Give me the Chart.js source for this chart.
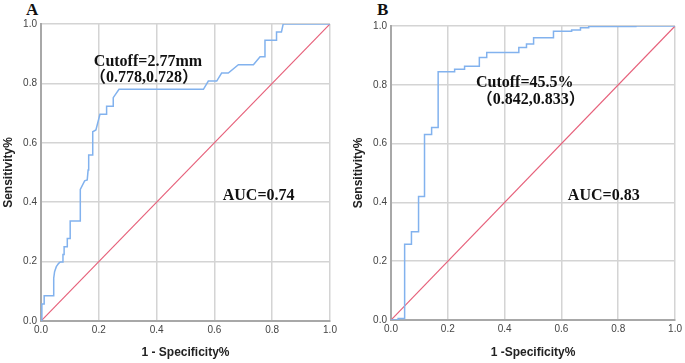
<!DOCTYPE html>
<html lang="en">
<head>
    <meta charset="UTF-8">
    <title>ROC curves</title>
    <script src="https://cdn.jsdelivr.net/npm/chart.js"></script>
    <style>
        * {
            margin: 0;
            padding: 0;
            box-sizing: border-box;
        }
        body {
            width: 685px;
            height: 363px;
            background: white;
            position: relative;
            overflow: hidden;
        }
        .panel {
            position: absolute;
            top: 0;
            height: 363px;
        }
        .letter {
            position: absolute;
            top: 0;
            font: bold 17px "Liberation Serif", "Times New Roman", serif;
            color: #111;
        }
    </style>
</head>
<body>
    <div class="letter" style="left:26px;">A</div>
    <div class="letter" style="left:377px;">B</div>
    <div class="panel" style="left:0; width:340px;"><canvas id="rocA"></canvas></div>
    <div class="panel" style="left:350px; width:335px;"><canvas id="rocB"></canvas></div>

    <script>
        // ROC points (1 - specificity, sensitivity)
        const fprA = [0, 0.003, 0.011, 0.011, 0.044, 0.044, 0.047, 0.053, 0.061, 0.067, 0.076, 0.076, 0.08, 0.08, 0.091, 0.091,
            0.101, 0.101, 0.136, 0.136, 0.151, 0.16, 0.163, 0.165, 0.179, 0.179, 0.19, 0.19, 0.204, 0.227, 0.227, 0.25, 0.25,
            0.27, 0.562, 0.579, 0.608, 0.625, 0.648, 0.683, 0.735, 0.758, 0.775, 0.775, 0.815, 0.815, 0.832, 0.838, 1];
        const tprA = [0, 0.057, 0.057, 0.085, 0.085, 0.144, 0.166, 0.183, 0.194, 0.199, 0.199, 0.224, 0.224, 0.25, 0.25, 0.278,
            0.278, 0.337, 0.337, 0.443, 0.472, 0.475, 0.508, 0.559, 0.559, 0.637, 0.643, 0.643, 0.696, 0.696, 0.723, 0.723, 0.752,
            0.78, 0.78, 0.808, 0.808, 0.835, 0.835, 0.863, 0.863, 0.89, 0.89, 0.945, 0.945, 0.973, 0.973, 1, 1];

        const fprB = [0, 0.025, 0.025, 0.048, 0.048, 0.072, 0.072, 0.097, 0.097, 0.118, 0.118, 0.143, 0.143, 0.166, 0.166,
            0.224, 0.224, 0.259, 0.259, 0.311, 0.311, 0.337, 0.337, 0.45, 0.45, 0.477, 0.477, 0.502, 0.502, 0.572, 0.572,
            0.636, 0.636, 0.667, 0.667, 0.696, 0.696, 0.862, 0.862, 1];
        const tprB = [0, 0, 0.005, 0.005, 0.258, 0.258, 0.3, 0.3, 0.42, 0.42, 0.631, 0.631, 0.655, 0.655, 0.844,
            0.844, 0.853, 0.853, 0.863, 0.863, 0.893, 0.893, 0.91, 0.91, 0.927, 0.927, 0.939, 0.939, 0.96, 0.96, 0.982,
            0.982, 0.986, 0.986, 0.994, 0.994, 0.998, 0.998, 1, 1];

        const refX = [0, 1];
        const refY = [0, 1];

        const tickValues = [0, 0.2, 0.4, 0.6, 0.8, 1.0];

        const textsA = [
            { text: "Cutoff=2.77mm", x: 0.37, y: 0.873 },
            { text: "（0.778,0.728）", x: 0.356, y: 0.82 },
            { text: "AUC=0.74", x: 0.753, y: 0.422 }
        ];
        const textsB = [
            { text: "Cutoff=45.5%", x: 0.471, y: 0.805 },
            { text: "（0.842,0.833）", x: 0.492, y: 0.748 },
            { text: "AUC=0.83", x: 0.749, y: 0.423 }
        ];

        const toPoints = (xs, ys) => xs.map((x, i) => ({ x: x, y: ys[i] }));

        // draws the bold labels inside the plot, placed in data units
        const plotText = {
            id: "plotText",
            afterDatasetsDraw(chart, args, opts) {
                const ctx = chart.ctx;
                ctx.save();
                ctx.font = 'bold 16px "Liberation Serif", "Noto Sans CJK SC", serif';
                ctx.fillStyle = "#111";
                ctx.textAlign = "center";
                ctx.textBaseline = "middle";
                opts.items.forEach(t => {
                    ctx.fillText(t.text, chart.scales.x.getPixelForValue(t.x), chart.scales.y.getPixelForValue(t.y));
                });
                ctx.restore();
            }
        };

        function makeRoc(id, fpr, tpr, texts, xTitle, pad, axisH) {
            const grid = { color: "#d4d4d4", lineWidth: 1.5, drawTicks: false };
            const border = { color: "#a8a8a8", width: 2 };
            const tickFont = { family: "Liberation Sans, Arial, sans-serif", size: 10 };
            const titleFont = { family: "Liberation Sans, Arial, sans-serif", size: 12, weight: "bold" };

            return new Chart(document.getElementById(id), {
                type: "line",
                data: {
                    datasets: [{
                        data: toPoints(fpr, tpr),
                        borderColor: "#82b2ee",
                        borderWidth: 1.5,
                        pointRadius: 0,
                        fill: false
                    }, {
                        data: toPoints(refX, refY),
                        borderColor: "#e6607a",
                        borderWidth: 1.2,
                        pointRadius: 0,
                        fill: false
                    }]
                },
                options: {
                    responsive: true,
                    maintainAspectRatio: false,
                    animation: false,
                    events: [],
                    layout: { padding: pad },
                    plugins: {
                        legend: { display: false },
                        tooltip: { enabled: false },
                        plotText: { items: texts }
                    },
                    scales: {
                        x: {
                            type: "linear",
                            min: 0,
                            max: 1,
                            grid: grid,
                            border: border,
                            afterBuildTicks: s => { s.ticks = tickValues.map(v => ({ value: v })); },
                            afterFit: s => { s.height = axisH; },
                            ticks: {
                                color: "#444",
                                font: tickFont,
                                padding: 3,
                                maxRotation: 0,
                                callback: v => v.toFixed(1)
                            },
                            title: {
                                display: true,
                                text: xTitle,
                                color: "#222",
                                font: titleFont,
                                padding: { top: 0, bottom: 3 }
                            }
                        },
                        y: {
                            type: "linear",
                            min: 0,
                            max: 1,
                            grid: grid,
                            border: border,
                            afterBuildTicks: s => { s.ticks = tickValues.map(v => ({ value: v })); },
                            afterFit: s => { s.width = 41; },
                            ticks: {
                                color: "#444",
                                font: tickFont,
                                padding: 4,
                                callback: v => v.toFixed(1)
                            },
                            title: {
                                display: true,
                                text: "Sensitivity%",
                                color: "#222",
                                font: titleFont,
                                padding: { top: 1, bottom: 0 }
                            }
                        }
                    }
                },
                plugins: [plotText]
            });
        }

        makeRoc("rocA", fprA, tprA, textsA, "1 - Specificity%", { top: 24, right: 10, left: 0, bottom: 0 }, 42);
        makeRoc("rocB", fprB, tprB, textsB, "1 -Specificity%", { top: 26, right: 7, left: 0, bottom: 0 }, 43);
    </script>
</body>
</html>
